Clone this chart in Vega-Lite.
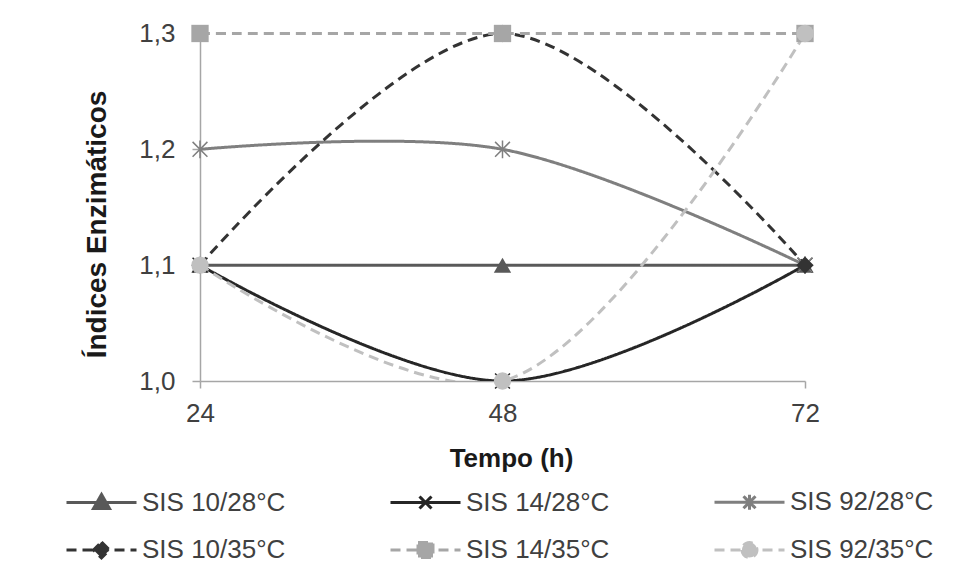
{
  "$schema": "https://vega.github.io/schema/vega-lite/v6.json",
  "width": 605,
  "height": 351,
  "autosize": {"type": "none"},
  "padding": {"left": 200, "top": 30, "right": 168, "bottom": 191},
  "background": "white",
  "config": {
    "view": {"stroke": null},
    "font": "Liberation Sans"
  },
  "data": {
    "values": [
      {"serie": "SIS 10/28°C", "tempo": 24, "indice": 1.1},
      {"serie": "SIS 10/28°C", "tempo": 48, "indice": 1.1},
      {"serie": "SIS 10/28°C", "tempo": 72, "indice": 1.1},
      {"serie": "SIS 14/28°C", "tempo": 24, "indice": 1.1},
      {"serie": "SIS 14/28°C", "tempo": 48, "indice": 1.0},
      {"serie": "SIS 14/28°C", "tempo": 72, "indice": 1.1},
      {"serie": "SIS 92/28°C", "tempo": 24, "indice": 1.2},
      {"serie": "SIS 92/28°C", "tempo": 48, "indice": 1.2},
      {"serie": "SIS 92/28°C", "tempo": 72, "indice": 1.1},
      {"serie": "SIS 10/35°C", "tempo": 24, "indice": 1.1},
      {"serie": "SIS 10/35°C", "tempo": 48, "indice": 1.3},
      {"serie": "SIS 10/35°C", "tempo": 72, "indice": 1.1},
      {"serie": "SIS 14/35°C", "tempo": 24, "indice": 1.3},
      {"serie": "SIS 14/35°C", "tempo": 48, "indice": 1.3},
      {"serie": "SIS 14/35°C", "tempo": 72, "indice": 1.3},
      {"serie": "SIS 92/35°C", "tempo": 24, "indice": 1.1},
      {"serie": "SIS 92/35°C", "tempo": 48, "indice": 1.0},
      {"serie": "SIS 92/35°C", "tempo": 72, "indice": 1.3}
    ]
  },
  "encoding": {
    "x": {
      "field": "tempo", "type": "quantitative",
      "scale": {"domain": [24, 72], "nice": false, "zero": false},
      "axis": {
        "values": [24, 48, 72], "grid": false, "title": "Tempo (h)", "labelFlush": false,
        "domainColor": "#a6a6a6", "domainWidth": 1.5, "tickColor": "#a6a6a6", "tickWidth": 1.5, "tickSize": 7,
        "labelFontSize": 26, "labelColor": "#404040", "labelFont": "Liberation Sans", "labelPadding": 12,
        "titleFontSize": 26, "titleFontWeight": "bold", "titleColor": "#1a1a1a", "titleFont": "Liberation Sans",
        "titleX": 311, "titleY": 77, "titleBaseline": "middle", "titleAlign": "center"
      }
    },
    "y": {
      "field": "indice", "type": "quantitative",
      "scale": {"domain": [1.0, 1.303], "nice": false, "zero": false},
      "axis": {
        "values": [1.0, 1.1, 1.2, 1.3], "grid": false, "title": "Índices Enzimáticos",
        "labelExpr": "replace(format(datum.value, '.1f'), '.', ',')",
        "domainColor": "#a6a6a6", "domainWidth": 1.5, "tickColor": "#a6a6a6", "tickWidth": 1.5, "tickSize": 8,
        "labelFontSize": 26, "labelColor": "#404040", "labelFont": "Liberation Sans", "labelPadding": 17,
        "titleFontSize": 28, "titleFontWeight": "bold", "titleColor": "#1a1a1a", "titleFont": "Liberation Sans",
        "titleX": -103, "titleY": 194, "titleBaseline": "middle", "titleAlign": "center", "titleAngle": 270
      }
    }
  },
  "layer": [
    {
      "mark": {"type": "line", "interpolate": "catmull-rom", "strokeWidth": 3, "clip": true},
      "encoding": {
        "color": {
          "field": "serie", "type": "nominal",
          "scale": {
            "domain": ["SIS 10/28°C", "SIS 14/28°C", "SIS 92/28°C", "SIS 10/35°C", "SIS 14/35°C", "SIS 92/35°C"],
            "range": ["#595959", "#262626", "#7f7f7f", "#333333", "#a6a6a6", "#c0c0c0"]
          },
          "legend": {
            "orient": "none", "legendX": -135, "legendY": 459, "columns": 3, "direction": "horizontal",
            "title": null, "symbolSize": 400, "symbolStrokeWidth": 3, "labelOffset": 51,
            "columnPadding": 98, "rowPadding": 20, "gridAlign": "all",
            "labelFontSize": 26, "labelFont": "Liberation Sans", "labelColor": "#404040", "labelLimit": 400,
            "encode": {
              "symbols": {
                "update": {
                  "shape": {"signal": "['M-1.15,0H5.85M2.35,-0.8L3.15,0.6L1.55,0.6Z','M-1.15,0H5.85M1.75,-0.6L2.95,0.6M1.75,0.6L2.95,-0.6','M-1.15,0H5.85M1.75,-0.6L2.95,0.6M1.75,0.6L2.95,-0.6M2.35,-0.75L2.35,0.75','M-1.15,0H5.85M2.35,-0.8L3.15,0L2.35,0.8L1.55,0Z','M-1.15,0H5.85M1.6,-0.75H3.1V0.75H1.6Z','M-1.15,0H5.85M1.6,0A0.75,0.75,0,1,0,3.1,0A0.75,0.75,0,1,0,1.6,0Z'][indexof(['SIS 10/28°C','SIS 14/28°C','SIS 92/28°C','SIS 10/35°C','SIS 14/35°C','SIS 92/35°C'], datum.value)]"},
                  "fill": {"signal": "['#595959','#262626','#7f7f7f','#333333','#a6a6a6','#c0c0c0'][indexof(['SIS 10/28°C','SIS 14/28°C','SIS 92/28°C','SIS 10/35°C','SIS 14/35°C','SIS 92/35°C'], datum.value)]"},
                  "fillOpacity": {"value": 1},
                  "strokeWidth": {"value": 3}
                }
              }
            }
          }
        },
        "strokeDash": {
          "field": "serie", "type": "nominal",
          "scale": {
            "domain": ["SIS 10/28°C", "SIS 14/28°C", "SIS 92/28°C", "SIS 10/35°C", "SIS 14/35°C", "SIS 92/35°C"],
            "range": [[1, 0], [1, 0], [1, 0], [10, 6], [10, 6], [10, 6]]
          }
        }
      }
    },
    {
      "transform": [{"filter": "datum.serie === 'SIS 10/28°C'"}],
      "mark": {"type": "point", "shape": "triangle-up", "filled": true, "size": 300, "color": "#595959", "opacity": 1}
    },
    {
      "transform": [{"filter": "datum.serie === 'SIS 14/28°C'"}],
      "mark": {"type": "point", "shape": "M-1,-1L1,1M-1,1L1,-1", "filled": false, "size": 220, "strokeWidth": 1.5, "color": "#262626", "opacity": 1}
    },
    {
      "transform": [{"filter": "datum.serie === 'SIS 92/28°C'"}],
      "mark": {"type": "point", "shape": "M-1,-1L1,1M-1,1L1,-1M0,-1.2L0,1.2", "filled": false, "size": 220, "strokeWidth": 1.5, "color": "#7f7f7f", "opacity": 1}
    },
    {
      "transform": [{"filter": "datum.serie === 'SIS 10/35°C'"}],
      "mark": {"type": "point", "shape": "diamond", "filled": true, "size": 300, "color": "#333333", "opacity": 1}
    },
    {
      "transform": [{"filter": "datum.serie === 'SIS 14/35°C'"}],
      "mark": {"type": "point", "shape": "square", "filled": true, "size": 300, "color": "#a6a6a6", "opacity": 1}
    },
    {
      "transform": [{"filter": "datum.serie === 'SIS 92/35°C'"}],
      "mark": {"type": "point", "shape": "circle", "filled": true, "size": 300, "color": "#c0c0c0", "opacity": 1}
    }
  ]
}
